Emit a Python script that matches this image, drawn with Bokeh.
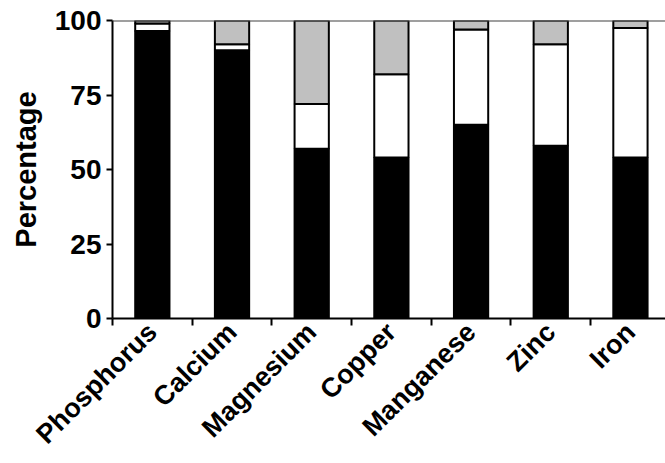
import math
from bokeh.plotting import figure
from bokeh.models import Range1d, FixedTicker, ColumnDataSource, Span
from bokeh.embed import file_html
from bokeh.resources import INLINE

categories = ["Phosphorus", "Calcium", "Magnesium", "Copper", "Manganese", "Zinc", "Iron"]
black_vals = [96.5, 90.0, 57.0, 54.0, 65.0, 58.0, 54.0]
white_vals = [2.5, 2.0, 15.0, 28.0, 32.0, 34.0, 43.5]
gray_vals = [1.0, 8.0, 28.0, 18.0, 3.0, 8.0, 2.5]
y_ticks = [0, 25, 50, 75, 100]

xs = [i + 0.5 for i in range(len(categories))]
src = ColumnDataSource(dict(x=xs, black=black_vals, white=white_vals, gray=gray_vals))

FONT = "Liberation Sans"

p = figure(width=665, height=463, output_backend="svg", toolbar_location=None,
           x_range=Range1d(0, 6.94), y_range=Range1d(0, 100),
           min_border_left=112, min_border_right=0, min_border_top=20, min_border_bottom=143)

p.vbar_stack(["black", "white", "gray"], x="x", width=0.43, source=src,
             color=["#000000", "#ffffff", "#c0c0c0"], line_color="#000000", line_width=2)

p.add_layout(Span(location=100, dimension="width", line_color="#404040", line_width=2))

p.outline_line_color = None
p.grid.grid_line_color = None
p.background_fill_color = "white"

xa = p.xaxis[0]
xa.ticker = FixedTicker(ticks=xs, minor_ticks=list(range(0, len(categories) + 1)))
xa.major_label_overrides = {x: c for x, c in zip(xs, categories)}
xa.major_tick_out = 0
xa.major_tick_in = 0
xa.minor_tick_out = 7
xa.minor_tick_in = 0
xa.minor_tick_line_width = 2
xa.minor_tick_line_color = "black"
xa.axis_line_width = 2
xa.axis_line_color = "black"
xa.major_label_orientation = math.pi / 4
xa.major_label_text_font = FONT
xa.major_label_text_font_style = "bold"
xa.major_label_text_font_size = "27px"
xa.major_label_text_color = "black"
xa.major_label_standoff = 2

ya = p.yaxis[0]
ya.ticker = FixedTicker(ticks=y_ticks, minor_ticks=[])
ya.major_tick_out = 6
ya.major_tick_in = 0
ya.major_tick_line_width = 2
ya.axis_line_width = 2
ya.axis_line_color = "black"
ya.major_label_text_font = FONT
ya.major_label_text_font_style = "bold"
ya.major_label_text_font_size = "28px"
ya.major_label_text_color = "black"
ya.major_label_standoff = 5
ya.axis_label = "Percentage"
ya.axis_label_text_font = FONT
ya.axis_label_text_font_style = "bold"
ya.axis_label_text_font_size = "29px"
ya.axis_label_text_color = "black"
ya.axis_label_standoff = 10

open("out.html", "w").write(file_html(p, INLINE))
